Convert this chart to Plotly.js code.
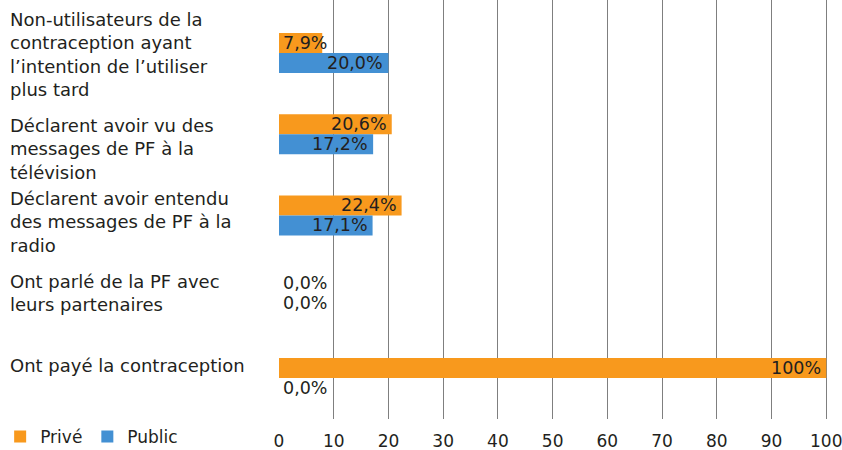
<!DOCTYPE html>
<html>
<head>
<meta charset="utf-8">
<script src="https://cdn.plot.ly/plotly-3.0.1.min.js"></script>
<style>html,body{margin:0;padding:0;background:#fff;}#chart{width:842px;height:450px;}</style>
</head>
<body>
<div id="chart"></div>
<script>
var categories = [
  "Non-utilisateurs de la<br>contraception ayant<br>l’intention de l’utiliser<br>plus tard",
  "Déclarent avoir vu des<br>messages de PF à la<br>télévision",
  "Déclarent avoir entendu<br>des messages de PF à la<br>radio",
  "Ont parlé de la PF avec<br>leurs partenaires",
  "Ont payé la contraception"
];
var prive = [7.9, 20.6, 22.4, 0, 100];
var publicVals = [20.0, 17.2, 17.1, 0, 0];
var xTicks = [0, 10, 20, 30, 40, 50, 60, 70, 80, 90, 100];
var labelShift = [-2, -15, -7, 4, 12];
var valueShift = [0, 0, 0, 4, 0];

var FONT = "DejaVu Sans, Noto Sans, sans-serif";
var TXT = "#231f20";
var ORANGE = "#f8991d";
var BLUE = "#4390d3";

function fmt(v) {
  if (v === 100) return "100%";
  return v.toFixed(1).replace(".", ",") + "%";
}

var catIdx = categories.map(function (c, i) { return i; });

var traces = [
  {type: "bar", orientation: "h", name: "Privé", x: prive, y: catIdx,
   marker: {color: ORANGE}, hoverinfo: "skip"},
  {type: "bar", orientation: "h", name: "Public", x: publicVals, y: catIdx,
   marker: {color: BLUE}, hoverinfo: "skip"}
];

var annotations = [];
categories.forEach(function (c, i) {
  annotations.push({
    xref: "paper", yref: "y", x: -0.4927, y: i, xanchor: "left", yanchor: "middle",
    align: "left", text: c, showarrow: false, yshift: labelShift[i],
    font: {family: FONT, size: 18, color: TXT}
  });
});
function addValueLabels(vals, shift) {
  vals.forEach(function (v, i) {
    var small = v < 10;
    annotations.push({
      xref: "x", yref: "y", x: small ? 0 : v, y: i,
      xanchor: small ? "left" : "right", yanchor: "middle",
      xshift: small ? 2 : -3, yshift: shift + valueShift[i],
      text: fmt(v), showarrow: false,
      font: {family: FONT, size: 17.5, color: TXT}
    });
  });
}
addValueLabels(prive, 10);
addValueLabels(publicVals, -10);

var layout = {
  width: 842, height: 450,
  margin: {l: 279, r: 13, t: 0, b: 31, autoexpand: false},
  paper_bgcolor: "#fff", plot_bgcolor: "#fff",
  barmode: "group", bargap: 0.51, bargroupgap: 0,
  showlegend: true,
  legend: {orientation: "h", x: -0.507, xanchor: "left", y: -0.043, yanchor: "middle",
           font: {family: FONT, size: 17, color: TXT}, itemwidth: 30, traceorder: "normal"},
  xaxis: {range: [0, 100.5], tickvals: xTicks, ticktext: xTicks.map(String),
          showgrid: true, gridcolor: "#7f7f7f", gridwidth: 1, zeroline: false,
          showline: false, ticks: "", fixedrange: true, automargin: false,
          ticklabelstandoff: 10, ticklabeloverflow: "allow",
          tickfont: {family: FONT, size: 17, color: TXT}},
  yaxis: {range: [4.505, -0.652], showticklabels: false, showgrid: false,
          zeroline: false, showline: false, ticks: "", fixedrange: true, automargin: false},
  annotations: annotations
};

Plotly.newPlot("chart", traces, layout, {displayModeBar: false, staticPlot: true});
</script>
</body>
</html>
